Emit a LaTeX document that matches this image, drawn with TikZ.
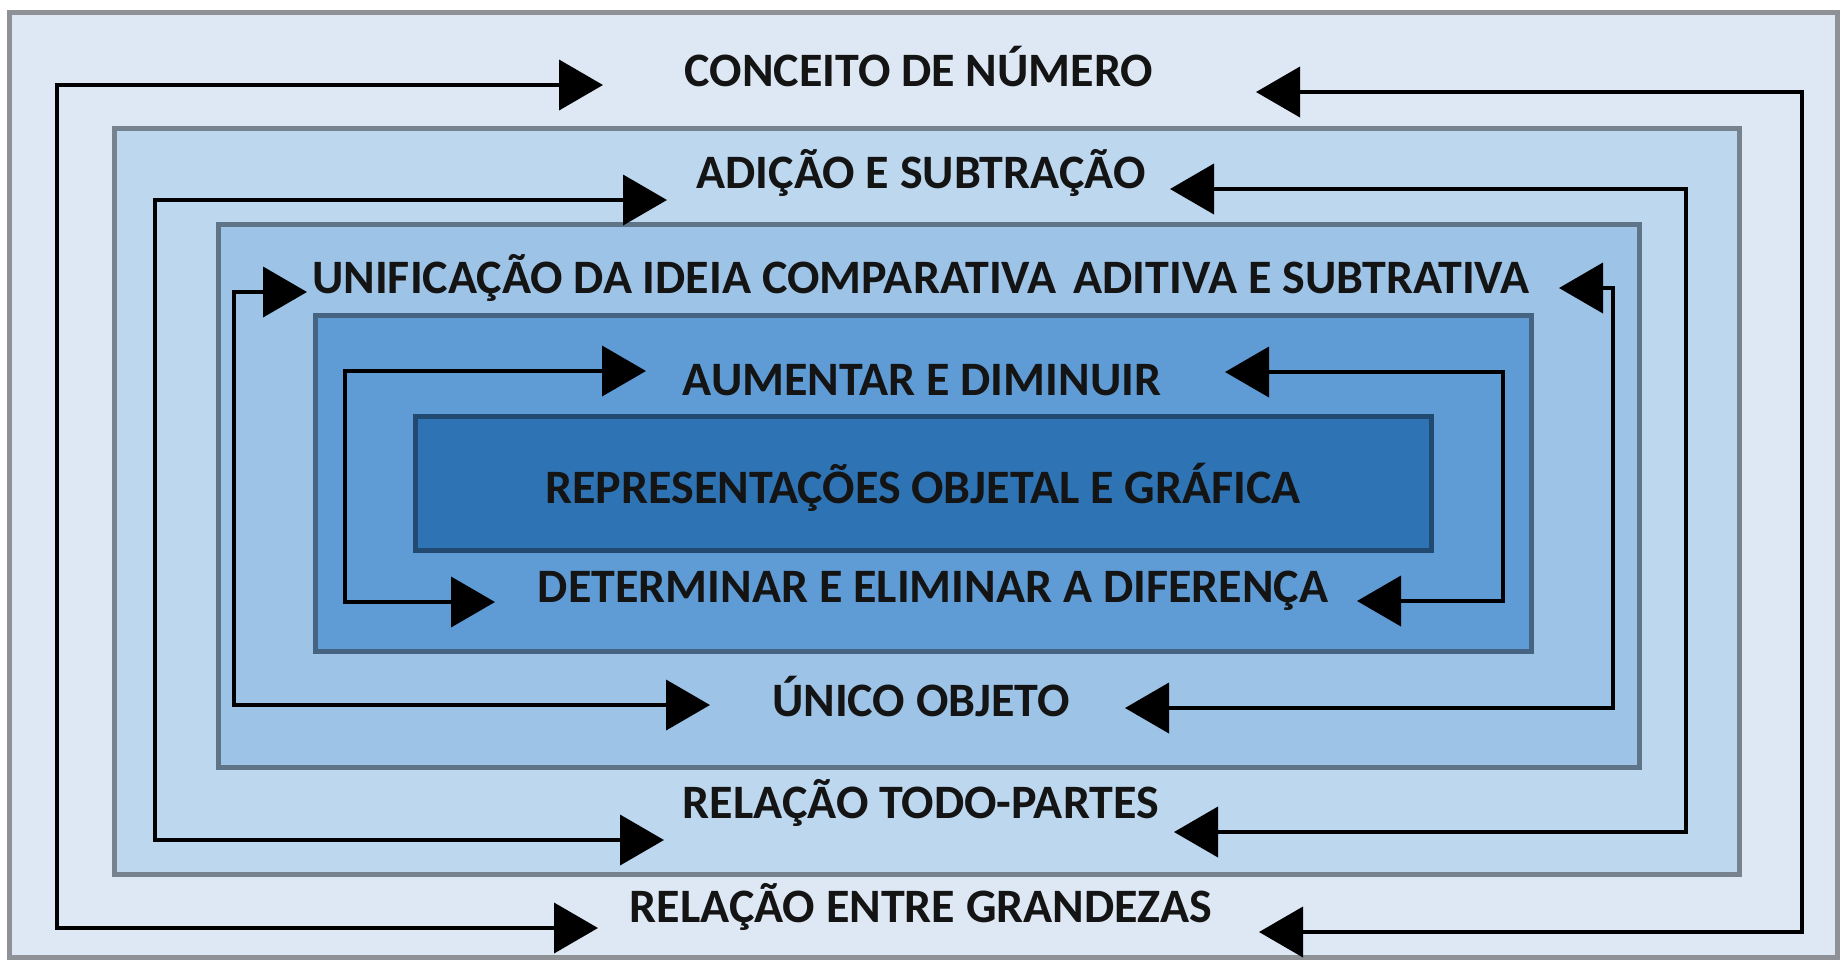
\documentclass[tikz,border=0pt]{standalone}
\usepackage{fontspec}
\setmainfont{Carlito}
\usetikzlibrary{arrows.meta}
\definecolor{f1}{HTML}{DDE8F4}
\definecolor{f2}{HTML}{BDD7EE}
\definecolor{f3}{HTML}{9DC3E6}
\definecolor{f4}{HTML}{5F9CD5}
\definecolor{f5}{HTML}{2E74B5}
\definecolor{b1}{HTML}{8E9296}
\definecolor{b2}{HTML}{76828E}
\definecolor{b3}{HTML}{607488}
\definecolor{b4}{HTML}{466482}
\definecolor{b5}{HTML}{22496F}
\definecolor{txt}{HTML}{141414}
\tikzset{
  layer/.style={line width=2.5pt},
  lbl/.style={inner sep=0pt, text=txt, font=\fontsize{24}{28}\selectfont\bfseries},
  arr/.style={line width=2pt, {Triangle[length=22pt,width=25pt]}-{Triangle[length=22pt,width=25pt]}}
}
\begin{document}
\begin{tikzpicture}[x=0.5pt,y=-0.5pt]
\useasboundingbox (0,0) rectangle (1847,966);
\fill[white] (0,0) rectangle (1847,966);
% nested layers
\draw[layer, draw=b1, fill=f1] (9,12) rectangle (1837,957);
\draw[layer, draw=b2, fill=f2] (114,128) rectangle (1739,874);
\draw[layer, draw=b3, fill=f3] (218,224) rectangle (1639,767);
\draw[layer, draw=b4, fill=f4] (315,315) rectangle (1531,651);
\draw[layer, draw=b5, fill=f5] (415,416) rectangle (1431,550);
% labels
\node[lbl] (conceito) at (919,67) {CONCEITO DE NÚMERO};
\node[lbl] (adicao) at (921,173) {ADIÇÃO E SUBTRAÇÃO};
\node[lbl] (unif) at (921,278) {UNIFICAÇÃO DA IDEIA COMPARATIVA\hspace{0.35em}ADITIVA E SUBTRATIVA};
\node[lbl] (aumentar) at (922,380) {AUMENTAR E DIMINUIR};
\node[lbl] (repr) at (923,487) {REPRESENTAÇÕES OBJETAL E GRÁFICA};
\node[lbl] (determinar) at (933,591) {DETERMINAR E ELIMINAR A DIFERENÇA};
\node[lbl] (unico) at (921,697) {ÚNICO OBJETO};
\node[lbl] (todo) at (921,803) {RELAÇÃO TODO-PARTES};
\node[lbl] (grandezas) at (921,907) {RELAÇÃO ENTRE GRANDEZAS};
% arrow paths
\coordinate (p1a) at (603,85);  \coordinate (p1b) at (57,85);   \coordinate (p1c) at (57,928);   \coordinate (p1d) at (598,928);
\coordinate (q1a) at (1256,92); \coordinate (q1b) at (1802,92); \coordinate (q1c) at (1802,932); \coordinate (q1d) at (1259,932);
\coordinate (p2a) at (667,200); \coordinate (p2b) at (155,200); \coordinate (p2c) at (155,840); \coordinate (p2d) at (664,840);
\coordinate (q2a) at (1170,189);\coordinate (q2b) at (1686,189);\coordinate (q2c) at (1686,832);\coordinate (q2d) at (1174,832);
\coordinate (p3a) at (307,292); \coordinate (p3b) at (234,292); \coordinate (p3c) at (234,705); \coordinate (p3d) at (710,705);
\coordinate (q3a) at (1559,288);\coordinate (q3b) at (1613,288);\coordinate (q3c) at (1613,708);\coordinate (q3d) at (1125,708);
\coordinate (p4a) at (646,371); \coordinate (p4b) at (345,371); \coordinate (p4c) at (345,602); \coordinate (p4d) at (495,602);
\coordinate (q4a) at (1225,372);\coordinate (q4b) at (1503,372);\coordinate (q4c) at (1503,601);\coordinate (q4d) at (1357,601);
\draw[arr] (p1a) -- (p1b) -- (p1c) -- (p1d);
\draw[arr] (q1a) -- (q1b) -- (q1c) -- (q1d);
\draw[arr] (p2a) -- (p2b) -- (p2c) -- (p2d);
\draw[arr] (q2a) -- (q2b) -- (q2c) -- (q2d);
\draw[arr] (p3a) -- (p3b) -- (p3c) -- (p3d);
\draw[arr] (q3a) -- (q3b) -- (q3c) -- (q3d);
\draw[arr] (p4a) -- (p4b) -- (p4c) -- (p4d);
\draw[arr] (q4a) -- (q4b) -- (q4c) -- (q4d);
\end{tikzpicture}
\end{document}
